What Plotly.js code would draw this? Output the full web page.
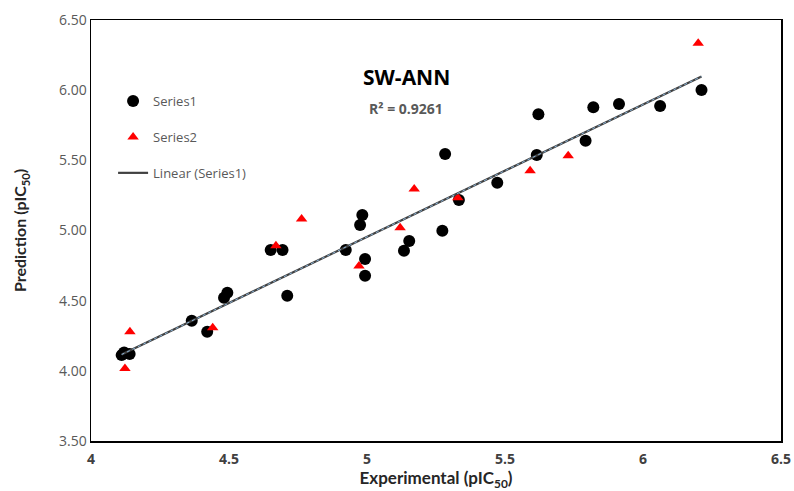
<!DOCTYPE html>
<html>
<head>
<meta charset="utf-8">
<script src="https://cdn.plot.ly/plotly-3.0.1.min.js"></script>
<style>html,body{margin:0;padding:0;background:#fff;}#chart{width:794px;height:491px;}</style>
</head>
<body>
<div id="chart"></div>
<script>
// Series1 (training) – experimental vs predicted pIC50
const s1x = [4.111, 4.120, 4.140, 4.365, 4.421, 4.482, 4.494, 4.651, 4.694, 4.711,
             4.923, 4.975, 4.983, 4.993, 4.993, 5.134, 5.153, 5.273, 5.283, 5.333,
             5.472, 5.615, 5.621, 5.792, 5.820, 5.913, 6.062, 6.212];
const s1y = [4.112, 4.130, 4.120, 4.357, 4.278, 4.521, 4.556, 4.861, 4.861, 4.535,
             4.861, 5.039, 5.110, 4.797, 4.678, 4.856, 4.925, 4.998, 5.545, 5.217,
             5.340, 5.538, 5.828, 5.640, 5.878, 5.901, 5.887, 6.001];
// Series2 (test)
const s2x = [4.123, 4.141, 4.441, 4.670, 4.763, 4.971, 5.120, 5.171, 5.329, 5.591, 5.729, 6.200];
const s2y = [4.017, 4.278, 4.307, 4.891, 5.082, 4.747, 5.020, 5.295, 5.234, 5.426, 5.533, 6.334];

const chartTitle = "SW-ANN";
const r2Label = "R² = 0.9261";
const yTicks = [3.5, 4.0, 4.5, 5.0, 5.5, 6.0, 6.5];
const xTicks = [4, 4.5, 5, 5.5, 6, 6.5];

// least-squares trendline of Series1
const n = s1x.length;
const mx = s1x.reduce((a,b)=>a+b,0)/n, my = s1y.reduce((a,b)=>a+b,0)/n;
let sxy=0, sxx=0;
for (let i=0;i<n;i++){ sxy += (s1x[i]-mx)*(s1y[i]-my); sxx += (s1x[i]-mx)**2; }
const slope = sxy/sxx, icpt = my - slope*mx;
const lx = [Math.min(...s1x), Math.max(...s1x)];
const ly = lx.map(v => icpt + slope*v);

const traces = [
  {x:s1x, y:s1y, type:'scatter', mode:'markers', name:'Series1', legendgroup:'a',
   marker:{symbol:'circle', size:12, color:'#000'}},
  {x:s2x, y:s2y, type:'scatter', mode:'markers', name:'Series2', legendgroup:'b',
   marker:{symbol:'triangle-up', size:10, color:'#ff0000'}},
  {x:lx, y:ly, type:'scatter', mode:'lines', name:'Linear (Series1)', legendgroup:'c',
   line:{color:'#404040', width:2.2}},
  {x:lx, y:ly, type:'scatter', mode:'lines', name:'trend overlay', showlegend:false,
   line:{color:'#8ab4d8', width:1, dash:'dot'}, hoverinfo:'skip'}
];

const layout = {
  width:794, height:491,
  margin:{l:91, r:13, t:20, b:50},
  paper_bgcolor:'#fff', plot_bgcolor:'#fff',
  showlegend:true,
  legend:{x:0.032, y:0.843, xanchor:'left', yanchor:'top', traceorder:'grouped',
          tracegroupgap:16, bgcolor:'rgba(0,0,0,0)',
          font:{family:'Open Sans, sans-serif', size:13, color:'#595959'}},
  xaxis:{range:[4,6.5], tickvals:xTicks, ticktext:xTicks.map(String),
         showgrid:false, zeroline:false, showline:true, mirror:true,
         linecolor:'#000', linewidth:1.5, ticks:'', ticklabelstandoff:5,
         tickfont:{family:'Open Sans, sans-serif', size:14, color:'#404040', weight:700},
         title:{text:'Experimental (pIC<sub>50</sub>)', standoff:12,
                font:{family:'Lato, sans-serif', size:17, color:'#262626', weight:'bold'}}},
  yaxis:{range:[3.5,6.5], tickvals:yTicks, ticktext:yTicks.map(v=>v.toFixed(2)),
         showgrid:false, zeroline:false, showline:true, mirror:true,
         linecolor:'#000', linewidth:1.5, ticks:'',
         tickfont:{family:'Open Sans, sans-serif', size:14, color:'#595959'},
         title:{text:'Prediction (pIC<sub>50</sub>)', standoff:28,
                font:{family:'Lato, sans-serif', size:16, color:'#262626', weight:'bold'}}},
  annotations:[
    {xref:'paper', yref:'paper', x:(406-91)/690, y:(441-77)/421, text:chartTitle,
     xanchor:'center', yanchor:'middle', showarrow:false,
     font:{family:'Open Sans, sans-serif', size:21, color:'#000', weight:'bold'}},
    {xref:'paper', yref:'paper', x:(406-91)/690, y:(441-108)/421, text:r2Label,
     xanchor:'center', yanchor:'middle', showarrow:false,
     font:{family:'Open Sans, sans-serif', size:14, color:'#595959', weight:'bold'}}
  ]
};

Plotly.newPlot('chart', traces, layout, {displayModeBar:false, staticPlot:true});
</script>
</body>
</html>
